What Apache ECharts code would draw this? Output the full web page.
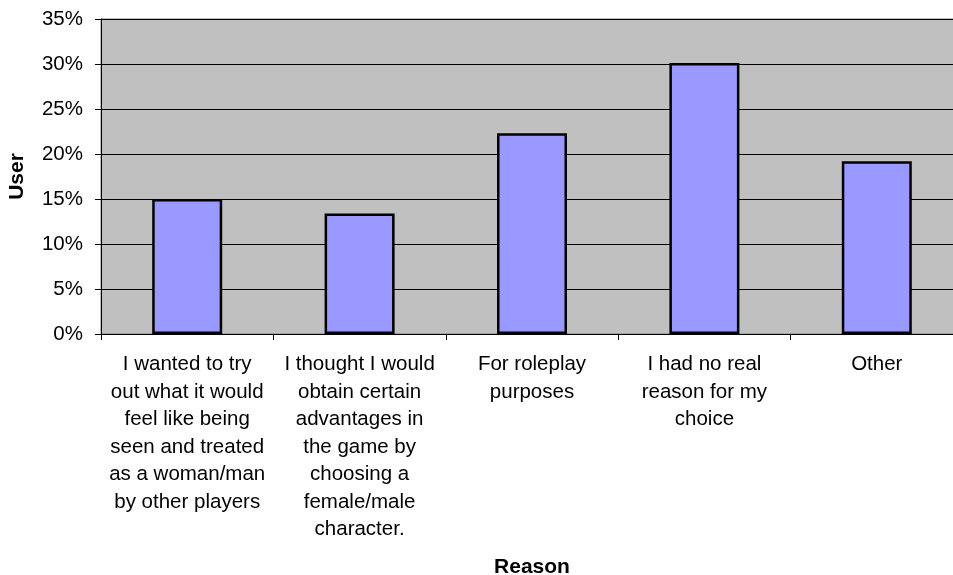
<!DOCTYPE html>
<html>
<head>
<meta charset="utf-8">
<script src="https://cdn.jsdelivr.net/npm/echarts@6/dist/echarts.min.js"></script>
<style>
  html, body { margin: 0; padding: 0; background: #fff; overflow: hidden; }
  /* the original plot runs past the right edge of the picture, so the
     chart box is a little wider than the window and gets cut off */
  #chart { width: 975px; height: 575px; }
</style>
</head>
<body>
<div id="chart"></div>
<script>
// categories (wrapped the way the original shows them)
const reasons = [
  'I wanted to try\nout what it would\nfeel like being\nseen and treated\nas a woman/man\nby other players',
  'I thought I would\nobtain certain\nadvantages in\nthe game by\nchoosing a\nfemale/male\ncharacter.',
  'For roleplay\npurposes',
  'I had no real\nreason for my\nchoice',
  'Other'
]
// share of users, as fractions
const userShare = [0.150, 0.134, 0.223, 0.301, 0.192]

const font = 'Liberation Sans, Arial, sans-serif'

const myChart = echarts.init(document.getElementById('chart'))

const option = {
  animation: false,
  textStyle: { fontFamily: font },
  grid: {
    left: 101,
    top: 19,
    width: 862,
    height: 315,
    outerBoundsMode: 'none',
    show: true,
    backgroundColor: '#c0c0c0',
    borderColor: '#808080',
    borderWidth: 1
  },
  xAxis: {
    type: 'category',
    data: reasons,
    name: 'Reason',
    nameLocation: 'middle',
    nameGap: 223,
    nameMoveOverlap: false,
    nameTextStyle: { fontFamily: font, fontSize: 21, fontWeight: 'bold', color: '#000' },
    axisLine: { lineStyle: { color: '#000', width: 1 } },
    axisTick: { show: true, length: 6, lineStyle: { color: '#000' } },
    axisLabel: {
      interval: 0,
      margin: 17,
      fontFamily: font,
      fontSize: 20.5,
      lineHeight: 27.5,
      color: '#000',
      align: 'center'
    }
  },
  yAxis: {
    type: 'value',
    min: 0,
    max: 0.35,
    interval: 0.05,
    name: 'User',
    nameLocation: 'middle',
    nameGap: 73,
    nameTextStyle: { fontFamily: font, fontSize: 21, fontWeight: 'bold', color: '#000' },
    axisLine: { show: true, lineStyle: { color: '#000', width: 1 } },
    axisTick: { show: true, length: 6, lineStyle: { color: '#000' } },
    axisLabel: {
      margin: 18,
      fontFamily: font,
      fontSize: 20.5,
      color: '#000',
      formatter: v => Math.round(v * 100) + '%'
    },
    splitLine: { lineStyle: { color: '#000', width: 1 } }
  },
  series: [
    {
      type: 'bar',
      data: userShare,
      barWidth: 70,
      itemStyle: {
        color: '#9999ff',
        borderColor: '#000',
        borderWidth: 2.5
      }
    }
  ]
}

myChart.setOption(option)

window.addEventListener('resize', () => {
  myChart.resize()
})
</script>
</body>
</html>
